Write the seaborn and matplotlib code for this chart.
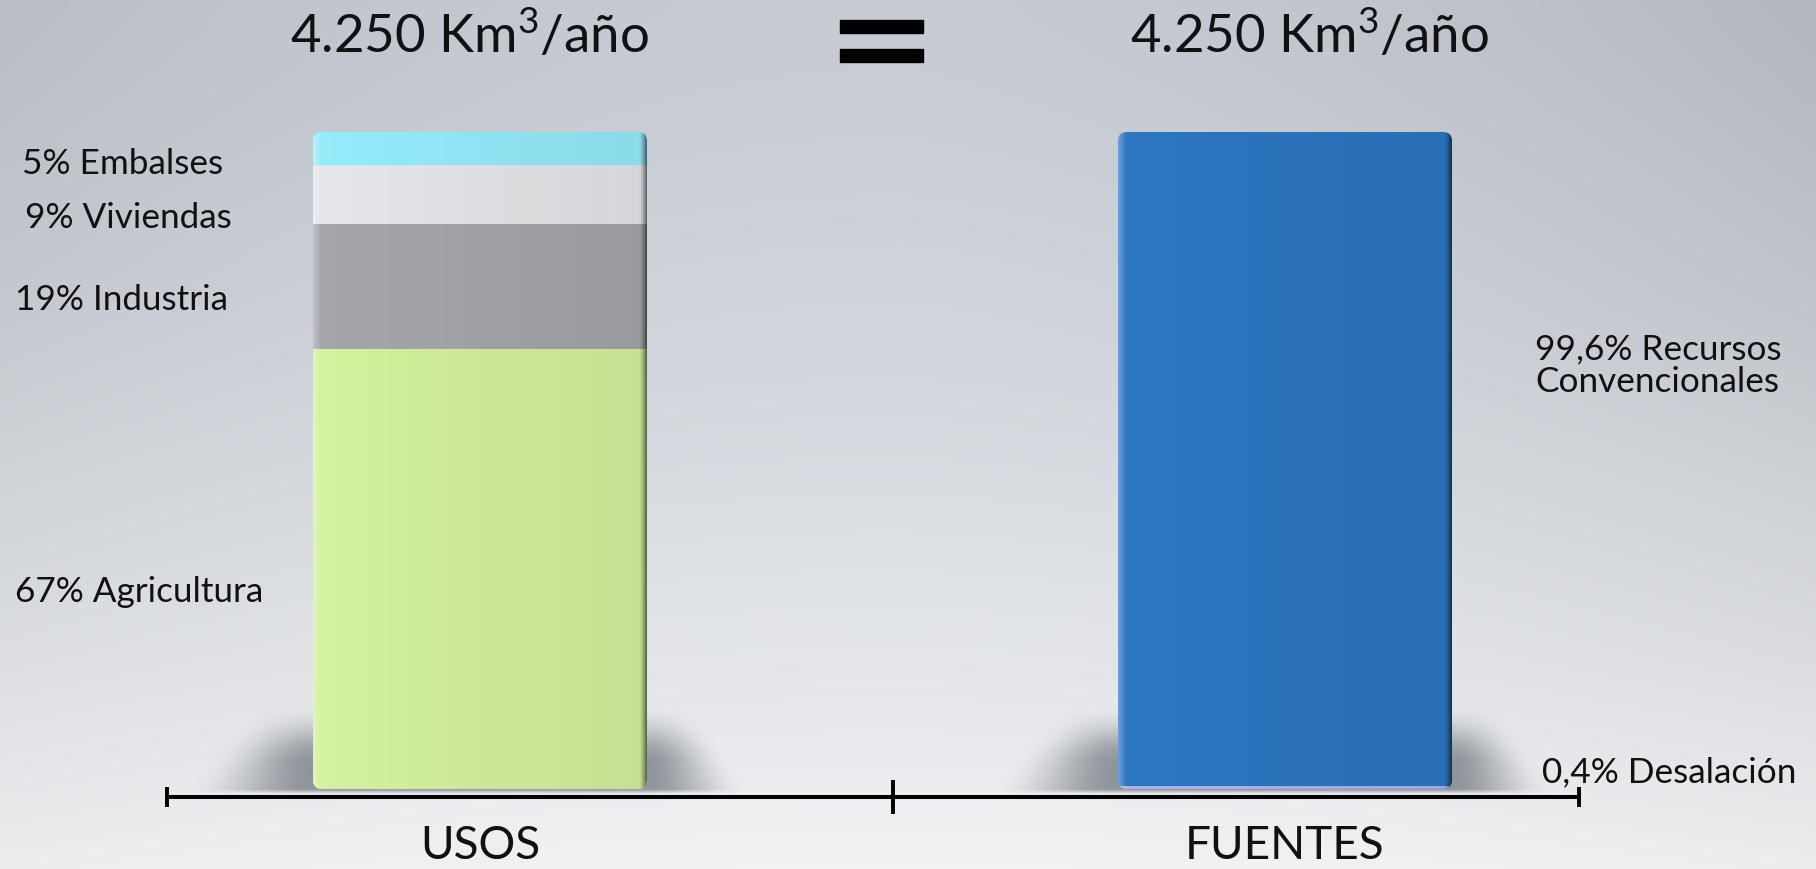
import numpy as np
import matplotlib
matplotlib.use("Agg")
import matplotlib.pyplot as plt
import seaborn as sns
from matplotlib.patches import FancyBboxPatch, Rectangle
from matplotlib.transforms import blended_transform_factory

# ---- data -------------------------------------------------------------
categorias = ["USOS", "FUENTES"]
volumen_total = "4.250"          # Km³/año, same total on both sides

usos_nombres = ["Agricultura", "Industria", "Viviendas", "Embalses"]
usos_pct = [67, 19, 9, 5]

fuentes_nombres = ["Desalación", "Recursos Convencionales"]
fuentes_pct = [0.4, 99.6]

colores = {
    "Agricultura": "#d4f19d",
    "Industria": "#a4a6a9",
    "Viviendas": "#e4e6e9",
    "Embalses": "#95ebfa",
    "Desalación": "#a9b2f0",
    "Recursos Convencionales": "#2d76c2",
}

# ---- figure -----------------------------------------------------------
W, H = 1816, 869
sns.set_theme(style="white")
plt.rcParams["font.family"] = ["Lato", "DejaVu Sans"]
plt.rcParams["text.color"] = "#111111"
plt.rcParams["mathtext.fontset"] = "custom"
plt.rcParams["mathtext.rm"] = "Lato"
plt.rcParams["mathtext.default"] = "rm"

fig = plt.figure(figsize=(W / 100, H / 100), dpi=100)


def fpx(x, y):
    """pixel position (from top-left) -> figure fraction"""
    return x / W, 1 - y / H


# soft studio backdrop
bg = fig.add_axes([0, 0, 1, 1], zorder=-10)
ny, nx = 300, 600
t = np.linspace(0, 1, ny)[:, None, None]
s = np.linspace(-1, 1, nx)[None, :, None]
top = np.array([0.780, 0.798, 0.830])
bot = np.array([0.945, 0.950, 0.957])
mix = t ** 1.4
base = top * (1 - mix) + bot * mix
vig = 1 - 0.07 * s ** 2 * (1 - 0.7 * t) - 0.03 * np.clip(s, 0, 1) * (1 - t)
bg.imshow(np.clip(base * vig, 0, 1), extent=[0, 1, 0, 1], aspect="auto",
          origin="upper", interpolation="bicubic")
bg.set_axis_off()

# main axes: the bottom spine is the baseline rule
ax_l, ax_r, ax_b, ax_t = 167, 1579, 797, 132
ax = fig.add_axes([ax_l / W, (H - ax_b) / H, (ax_r - ax_l) / W, (ax_b - ax_t) / H])
ax.patch.set_alpha(0)

px_por_cat = 805.0                      # pixels between category centres
ux = 1 / px_por_cat                     # data-x per pixel
uy = 100.0 / (789 - ax_t)               # data-y per pixel
xlim = (-313 * ux, (ax_r - ax_l - 313) * ux)
ylim = (-(ax_b - 789) * uy, 100.0)
ANCHO = 334 * ux
MEDIO = (893 - ax_l - 313) * ux

# stacked columns drawn as overlapping cumulative bars
for cat, nombres, pcts in [("USOS", usos_nombres, usos_pct),
                           ("FUENTES", fuentes_nombres, fuentes_pct)]:
    acum = np.cumsum(pcts)
    for nombre, alto in reversed(list(zip(nombres, acum))):
        sns.barplot(x=[cat], y=[alto], order=categorias, color=colores[nombre],
                    saturation=1, width=ANCHO, linewidth=0, ax=ax, zorder=3)

ax.set_xlim(*xlim)
ax.set_ylim(*ylim)

# rounded corners, side shading and floor shadow for each column
asp = uy / ux
radio = 9 * ux
u = np.linspace(0, 1, 300)
sh = np.zeros((1, u.size, 4))
a_dark = 0.07 * u + 0.5 * np.clip((u - 0.978) / 0.022, 0, 1) ** 1.5
a_light = 0.30 * np.clip(1 - u / 0.025, 0, 1)
sh[0, :, :3] = np.where(a_light > a_dark, 1.0, 0.0)[:, None]
sh[0, :, 3] = np.maximum(a_dark, a_light)

for i, cat in enumerate(categorias):
    cols = [p for p in ax.patches
            if abs(p.get_x() + p.get_width() / 2 - i) < 1e-6]
    x0 = cols[0].get_x()
    w = cols[0].get_width()
    alto = max(p.get_height() for p in cols)
    caja = FancyBboxPatch((x0, 0), w, alto,
                          boxstyle=f"round,pad=0,rounding_size={radio}",
                          mutation_aspect=asp, facecolor="none",
                          edgecolor="none", zorder=4)
    ax.add_patch(caja)
    for p in cols:
        p.set_clip_path(caja)
    im = ax.imshow(sh, extent=[x0, x0 + w, 0, alto], aspect="auto", zorder=4,
                   interpolation="bilinear")
    im.set_clip_path(caja)

    # blurred contact shadow behind the column
    izq, der = 130 * ux, 105 * ux
    alto_px = 85
    gx = np.linspace(x0 - izq, x0 + w + der, 300)
    gy = np.linspace(ylim[0], alto_px * uy, 90)
    X, Y = np.meshgrid(gx, gy)
    hp = Y / uy                              # pixels above column base
    frac = np.clip(1 - hp / alto_px, 0, 1)
    spread_l = izq * (0.45 + 0.55 * frac)
    spread_r = der * (0.45 + 0.55 * frac)
    dl = np.clip((x0 - X) / spread_l, 0, None)
    dr = np.clip((X - (x0 + w)) / spread_r, 0, None)
    fx = np.clip(1 - np.maximum(dl, dr), 0, 1)
    fx = fx * fx * (3 - 2 * fx)
    fy = np.where(hp >= 0, np.clip((alto_px - hp) / 60, 0, 1),
                  np.clip(1 + hp / 6, 0, 1))
    fy = fy * fy * (3 - 2 * fy)
    sombra = np.zeros(X.shape + (4,))
    sombra[..., :3] = [0.48, 0.50, 0.53]
    sombra[..., 3] = 0.8 * fx * fy
    ax.imshow(sombra, extent=[gx[0], gx[-1], gy[0], gy[-1]], origin="lower",
              aspect="auto", zorder=1, interpolation="bilinear")

ax.set_xlim(*xlim)
ax.set_ylim(*ylim)

# axis styling
for lado in ["left", "right", "top"]:
    ax.spines[lado].set_visible(False)
ax.spines["bottom"].set_linewidth(2.9)
ax.spines["bottom"].set_color("black")
ax.spines["bottom"].set_capstyle("butt")
ax.set_yticks([])
ax.set_xlabel("")
ax.set_ylabel("")
ax.set_xticks([0, 1], categorias)
ax.tick_params(axis="x", which="major", length=0, pad=20, labelsize=33,
               labelcolor="#111111")

# end stops and the divider on the baseline rule
base_tr = blended_transform_factory(ax.transData, ax.transAxes)
for xm, largo in [(xlim[0], 15), (MEDIO, 24.5), (xlim[1], 15)]:
    ax.plot([xm], [0], marker="|", ms=largo, mew=2.8, color="black",
            clip_on=False, zorder=5, transform=base_tr)


def pct_txt(v):
    return f"{v:g}".replace(".", ",") + "%"


# segment labels
etq = 25.3
pos_usos = {"Agricultura": (15, 602), "Industria": (15, 310),
            "Viviendas": (25, 228), "Embalses": (22, 174)}
for nombre, v in zip(usos_nombres, usos_pct):
    fig.text(*fpx(*pos_usos[nombre]), f"{pct_txt(v)} {nombre}", size=etq,
             ha="left", va="baseline")

fig.text(*fpx(1542, 782), f"{pct_txt(fuentes_pct[0])} {fuentes_nombres[0]}",
         size=etq, ha="left", va="baseline")
primera, segunda = fuentes_nombres[1].split(" ", 1)
fig.text(*fpx(1535, 359), f"{pct_txt(fuentes_pct[1])} {primera}", size=etq,
         ha="left", va="baseline")
fig.text(*fpx(1535, 392), segunda, size=etq, ha="left", va="baseline")

# totals above each column, joined by an equals sign
for xc in (470, 1310):
    fig.text(*fpx(xc, 53), volumen_total + r" Km$^{3}$/año", size=38,
             ha="center", va="baseline")
for y0 in (20, 49):
    fig.add_artist(Rectangle(fpx(840, y0 + 13), 83 / W, 13 / H,
                             transform=fig.transFigure, color="black"))

fig.savefig("out.png", dpi=100)
